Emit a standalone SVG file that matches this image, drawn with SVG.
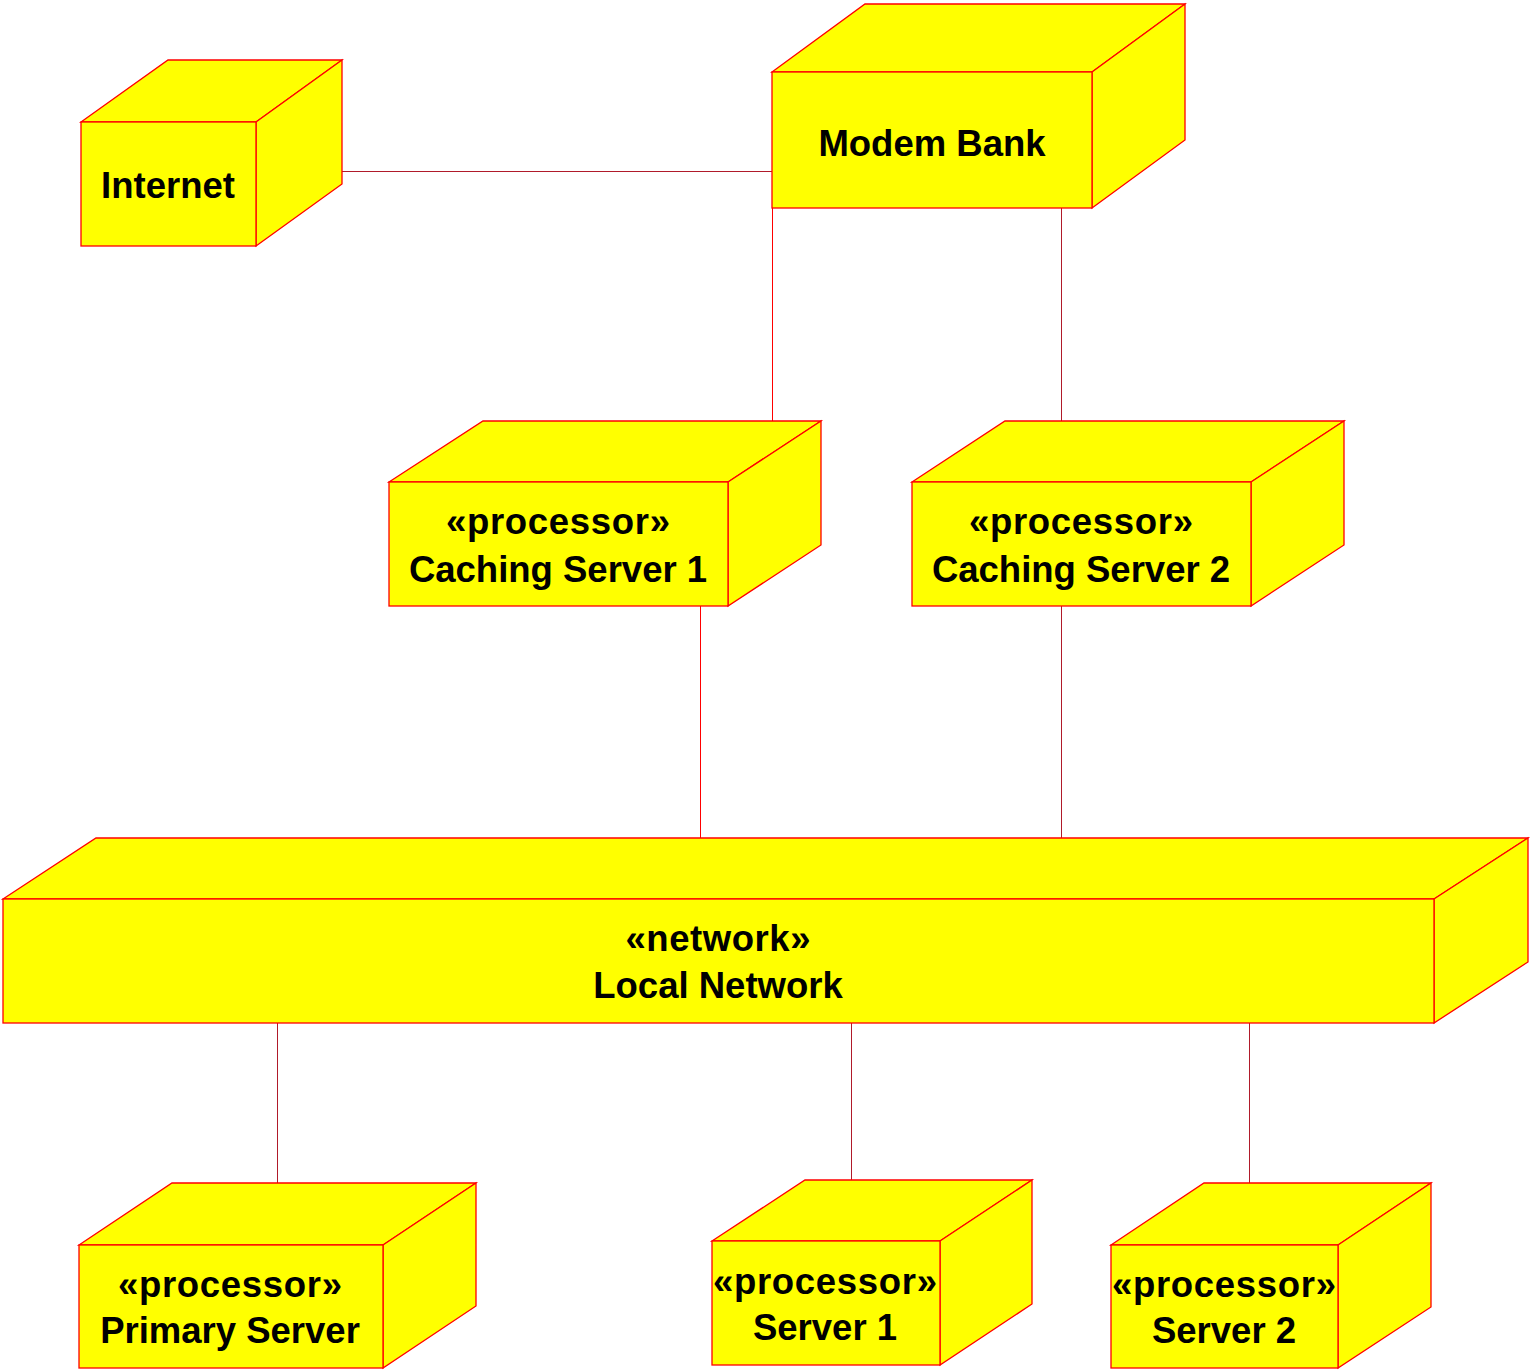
<svg xmlns="http://www.w3.org/2000/svg" width="1531" height="1372" viewBox="0 0 1531 1372">
<style>
.face{fill:#ffff00;stroke:#ff0000;stroke-width:1.3;stroke-linejoin:miter}
.lbl{font-family:"Liberation Sans",Arial,sans-serif;font-weight:bold;font-size:36.5px;fill:#000;text-anchor:middle}
.c{stroke:#ff0000;stroke-width:1;fill:none;shape-rendering:crispEdges}
.cd{stroke:#b01a2a;stroke-width:1;fill:none;shape-rendering:crispEdges}
</style>
<rect width="1531" height="1372" fill="#ffffff"/>
<g id="connectors">
<line class="cd" x1="342" y1="171.5" x2="772" y2="171.5"/>
<line class="c" x1="772.5" y1="208" x2="772.5" y2="421"/>
<line class="cd" x1="1061.5" y1="208" x2="1061.5" y2="421"/>
<line class="c" x1="700.5" y1="606" x2="700.5" y2="838"/>
<line class="cd" x1="1061.5" y1="606" x2="1061.5" y2="838"/>
<line class="cd" x1="277.5" y1="1023" x2="277.5" y2="1183"/>
<line class="cd" x1="851.5" y1="1023" x2="851.5" y2="1180"/>
<line class="cd" x1="1249.5" y1="1023" x2="1249.5" y2="1183"/>
</g>
<g id="internet">
<polygon class="face" points="81,122 168,60 342,60 256,122"/>
<polygon class="face" points="256,122 342,60 342,184 256,246"/>
<rect class="face" x="81" y="122" width="175" height="124"/>
<text class="lbl" x="168" y="198">Internet</text>
</g>
<g id="modem-bank">
<polygon class="face" points="772,72 865,4 1185,4 1092,72"/>
<polygon class="face" points="1092,72 1185,4 1185,140 1092,208"/>
<rect class="face" x="772" y="72" width="320" height="136"/>
<text class="lbl" x="932" y="156">Modem Bank</text>
</g>
<g id="caching-server-1">
<polygon class="face" points="389,482 483,421 821,421 728,482"/>
<polygon class="face" points="728,482 821,421 821,545 728,606"/>
<rect class="face" x="389" y="482" width="339" height="124"/>
<text class="lbl" x="558" y="534" textLength="224" lengthAdjust="spacing">«processor»</text>
<text class="lbl" x="558" y="582">Caching Server 1</text>
</g>
<g id="caching-server-2">
<polygon class="face" points="912,482 1005,421 1344,421 1251,482"/>
<polygon class="face" points="1251,482 1344,421 1344,545 1251,606"/>
<rect class="face" x="912" y="482" width="339" height="124"/>
<text class="lbl" x="1081" y="534" textLength="224" lengthAdjust="spacing">«processor»</text>
<text class="lbl" x="1081" y="582">Caching Server 2</text>
</g>
<g id="local-network">
<polygon class="face" points="3,899 96,838 1528,838 1434,899"/>
<polygon class="face" points="1434,899 1528,838 1528,962 1434,1023"/>
<rect class="face" x="3" y="899" width="1431" height="124"/>
<text class="lbl" x="718" y="951" textLength="185" lengthAdjust="spacing">«network»</text>
<text class="lbl" x="718" y="998">Local Network</text>
</g>
<g id="primary-server">
<polygon class="face" points="79,1245 172,1183 476,1183 383,1245"/>
<polygon class="face" points="383,1245 476,1183 476,1306 383,1368"/>
<rect class="face" x="79" y="1245" width="304" height="123"/>
<text class="lbl" x="230" y="1297" textLength="224" lengthAdjust="spacing">«processor»</text>
<text class="lbl" x="230" y="1343">Primary Server</text>
</g>
<g id="server-1">
<polygon class="face" points="712,1241 805,1180 1032,1180 940,1241"/>
<polygon class="face" points="940,1241 1032,1180 1032,1304 940,1365"/>
<rect class="face" x="712" y="1241" width="228" height="124"/>
<text class="lbl" x="825" y="1294" textLength="224" lengthAdjust="spacing">«processor»</text>
<text class="lbl" x="825" y="1340">Server 1</text>
</g>
<g id="server-2">
<polygon class="face" points="1111,1245 1204,1183 1431,1183 1338,1245"/>
<polygon class="face" points="1338,1245 1431,1183 1431,1307 1338,1368"/>
<rect class="face" x="1111" y="1245" width="227" height="123"/>
<text class="lbl" x="1224" y="1297" textLength="224" lengthAdjust="spacing">«processor»</text>
<text class="lbl" x="1224" y="1343">Server 2</text>
</g>
</svg>
